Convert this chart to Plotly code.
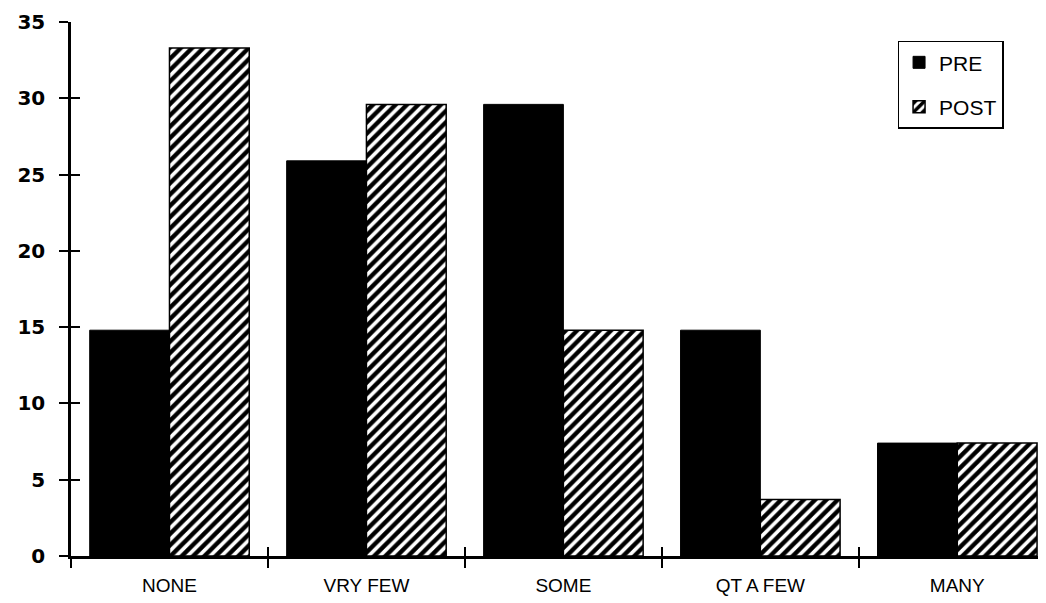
import plotly.graph_objects as go

categories = ["NONE", "VRY FEW", "SOME", "QT A FEW", "MANY"]
pre = [14.8, 25.9, 29.6, 14.8, 7.4]
post = [33.3, 29.6, 14.8, 3.7, 7.4]
y_ticks = [0, 5, 10, 15, 20, 25, 30, 35]

fig = go.Figure()
fig.add_trace(go.Bar(x=categories, y=pre, name="PRE", legendgroup="pre",
                     marker=dict(color="black", line=dict(color="black", width=1))))
fig.add_trace(go.Bar(x=categories, y=post, name="POST", legendgroup="post",
                     marker=dict(color="white", line=dict(color="black", width=1.5),
                                 pattern=dict(shape="/", fgcolor="black", bgcolor="white",
                                              fgopacity=1, size=8, solidity=0.55))))
# invisible trace to create the overlay axes for crossing ticks
fig.add_trace(go.Scatter(x=categories, y=[0]*len(categories), xaxis="x2", yaxis="y2",
                         mode="markers", marker=dict(opacity=0), showlegend=False,
                         hoverinfo="skip"))

fig.update_layout(
    width=1038, height=595,
    margin=dict(l=63, r=6, t=14, b=47),
    paper_bgcolor="white", plot_bgcolor="white",
    barmode="group", bargap=0.19, bargroupgap=0,
    showlegend=True,
    legend=dict(x=0.853, y=0.965, xanchor="left", yanchor="top",
                bordercolor="black", borderwidth=1.5, bgcolor="white",
                font=dict(family="Liberation Sans, Arial", size=21, color="black"),
                itemwidth=30, tracegroupgap=14),
    xaxis=dict(type="category", range=[-0.5, 4.42], tickson="boundaries",
               showline=True, linecolor="black", linewidth=2.5,
               ticks="outside", ticklen=9, tickwidth=2, tickcolor="black",
               showgrid=False, zeroline=False, automargin=False,
               tickfont=dict(family="Liberation Sans, Arial", size=19, color="black"),
               ticklabelstandoff=10),
    yaxis=dict(range=[0, 35], tickvals=y_ticks,
               showline=True, linecolor="black", linewidth=2.5,
               ticks="outside", ticklen=9, tickwidth=2, tickcolor="black",
               showgrid=False, zeroline=False, automargin=False,
               ticklabeloverflow="allow",
               tickfont=dict(family="DejaVu Sans, Verdana", size=20, color="black", weight="bold"),
               ticklabelstandoff=10),
    xaxis2=dict(type="category", range=[-0.5, 4.42], tickson="boundaries", overlaying="x",
                matches="x", side="bottom", anchor="y2", automargin=False,
                ticks="inside", ticklen=9, tickwidth=2, tickcolor="black",
                showticklabels=False, showline=False, showgrid=False, zeroline=False),
    yaxis2=dict(range=[0, 35], tickvals=y_ticks, overlaying="y", side="left", anchor="x2",
                automargin=False,
                ticks="inside", ticklen=9, tickwidth=2, tickcolor="black",
                showticklabels=False, showline=False, showgrid=False, zeroline=False),
)

fig.write_html("out.html")
